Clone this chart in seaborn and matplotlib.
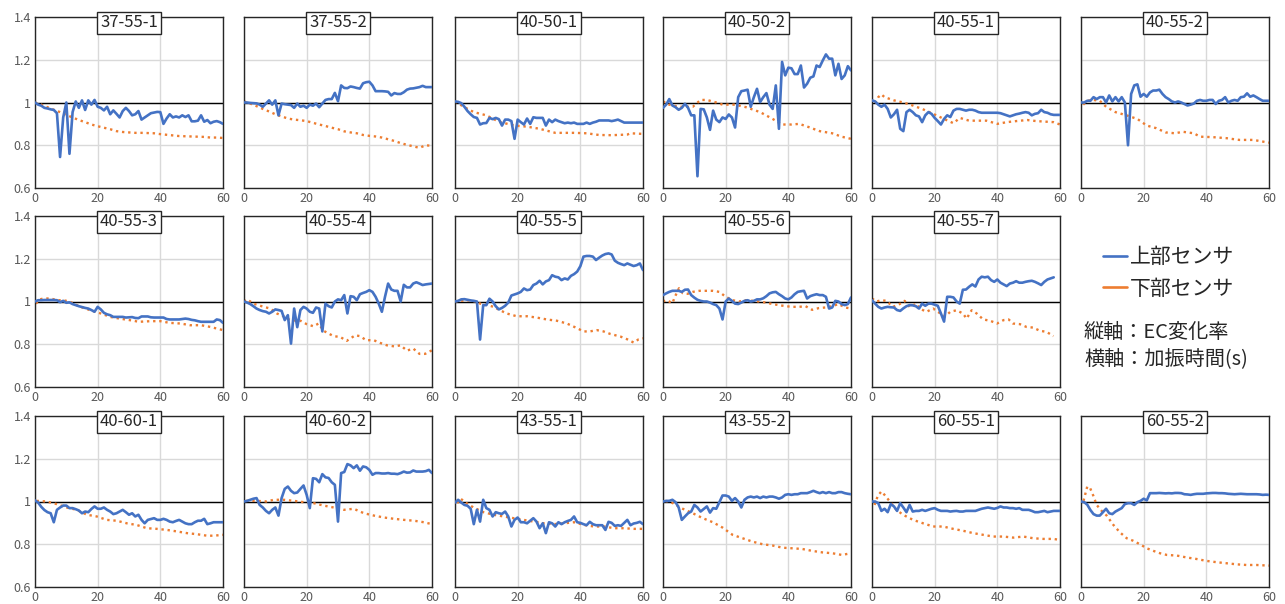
import numpy as np
import pandas as pd
import matplotlib
matplotlib.use("Agg")
import matplotlib.pyplot as plt
from matplotlib.lines import Line2D
from matplotlib.ticker import FixedLocator, FuncFormatter
import seaborn as sns

sns.set_theme(style="white")
plt.rcParams['font.family'] = ['Noto Sans CJK JP', 'DejaVu Sans']

BLUE = "#4472C4"
ORANGE = "#ED7D31"

panel_names = ["37-55-1", "37-55-2", "40-50-1", "40-50-2", "40-55-1", "40-55-2",
               "40-55-3", "40-55-4", "40-55-5", "40-55-6", "40-55-7",
               "40-60-1", "40-60-2", "43-55-1", "43-55-2", "60-55-1", "60-55-2"]
legend_labels = ["上部センサ", "下部センサ"]
note_lines = ["縦軸：EC変化率", "横軸：加振時間(s)"]
x_ticks = [0, 20, 40, 60]
y_ticks = [0.6, 0.8, 1.0, 1.2, 1.4]

# ---- upper sensor (1 s sampling) ----
up_37_55_1 = [1.0, 0.99, 0.985, 0.975, 0.972, 0.968, 0.965, 0.95, 0.745, 0.93, 1.0, 0.76, 0.955, 1.005, 0.975, 1.01,
              0.965, 1.01, 0.99, 1.012, 0.98, 0.975, 0.963, 0.98, 0.945, 0.963, 0.947, 0.93, 0.96, 0.975, 0.96, 0.94,
              0.945, 0.96, 0.92, 0.93, 0.94, 0.95, 0.953, 0.956, 0.955, 0.9, 0.925, 0.945, 0.93, 0.935, 0.93, 0.94,
              0.932, 0.94, 0.912, 0.912, 0.915, 0.94, 0.91, 0.918, 0.903, 0.91, 0.913, 0.908, 0.9]
up_37_55_2 = [1.0, 1.0, 0.998, 0.997, 0.996, 0.99, 0.98, 0.995, 1.01, 0.99, 1.01, 0.94, 0.995, 0.992, 0.99, 0.988,
              0.975, 0.995, 0.98, 0.985, 0.975, 0.99, 0.985, 0.995, 0.978, 0.995, 1.012, 1.016, 1.016, 1.045, 1.006,
              1.08, 1.068, 1.067, 1.075, 1.072, 1.068, 1.065, 1.09, 1.095, 1.097, 1.08, 1.053, 1.053, 1.053, 1.052,
              1.05, 1.033, 1.044, 1.04, 1.04, 1.048, 1.06, 1.065, 1.066, 1.069, 1.072, 1.078, 1.072, 1.072, 1.072]
up_40_50_1 = [1.005, 1.003, 0.997, 0.98, 0.96, 0.945, 0.932, 0.928, 0.897, 0.903, 0.904, 0.928, 0.922, 0.928, 0.922,
              0.892, 0.92, 0.92, 0.913, 0.83, 0.92, 0.908, 0.897, 0.925, 0.9, 0.931, 0.928, 0.928, 0.928, 0.892, 0.92,
              0.908, 0.92, 0.913, 0.908, 0.903, 0.906, 0.903, 0.906, 0.9, 0.9, 0.9, 0.906, 0.9, 0.906, 0.91, 0.916,
              0.916, 0.916, 0.916, 0.913, 0.916, 0.92, 0.913, 0.906, 0.906, 0.906, 0.906, 0.906, 0.906, 0.906]
up_40_50_2 = [0.975, 0.99, 1.016, 0.986, 0.978, 0.966, 0.975, 0.994, 0.975, 0.94, 0.94, 0.655, 0.97, 0.968, 0.93,
              0.872, 0.962, 0.92, 0.908, 0.93, 0.923, 0.944, 0.93, 0.883, 1.025, 1.053, 1.056, 1.06, 0.98, 1.025,
              1.064, 1.002, 1.025, 1.044, 0.99, 0.97, 1.08, 0.877, 1.19, 1.127, 1.163, 1.16, 1.133, 1.133, 1.173,
              1.07, 1.088, 1.116, 1.122, 1.173, 1.166, 1.197, 1.225, 1.205, 1.205, 1.127, 1.181, 1.11, 1.127, 1.17, 1.15]
up_40_55_1 = [1.01, 1.005, 0.99, 0.98, 0.99, 0.97, 0.93, 0.945, 0.966, 0.877, 0.866, 0.955, 0.966, 0.955, 0.94, 0.935,
              0.908, 0.94, 0.955, 0.947, 0.928, 0.913, 0.897, 0.923, 0.94, 0.932, 0.962, 0.97, 0.97, 0.966, 0.962,
              0.966, 0.966, 0.962, 0.955, 0.952, 0.952, 0.952, 0.952, 0.952, 0.952, 0.95, 0.945, 0.94, 0.935, 0.94,
              0.945, 0.948, 0.952, 0.955, 0.952, 0.94, 0.947, 0.95, 0.966, 0.955, 0.952, 0.945, 0.942, 0.942, 0.942]
up_40_55_2 = [1.0, 1.0, 1.008, 1.008, 1.025, 1.016, 1.025, 1.025, 1.0, 1.033, 1.005, 1.025, 1.005, 1.025, 1.0, 0.8,
              1.04, 1.08, 1.085, 1.027, 1.04, 1.027, 1.047, 1.056, 1.056, 1.06, 1.04, 1.025, 1.016, 1.005, 1.0, 1.005,
              1.0, 0.993, 0.986, 0.99, 0.995, 1.008, 1.012, 1.008, 1.008, 1.012, 1.012, 0.993, 1.008, 1.012, 1.025,
              1.0, 1.008, 1.012, 1.008, 1.025, 1.027, 1.043, 1.027, 1.033, 1.025, 1.016, 1.008, 1.008, 1.008]
up_40_55_3 = [1.0, 1.006, 1.006, 1.007, 1.007, 1.007, 1.007, 1.006, 0.997, 1.003, 0.994, 0.996, 0.988, 0.983, 0.978,
              0.974, 0.97, 0.967, 0.96, 0.952, 0.975, 0.963, 0.947, 0.94, 0.936, 0.928, 0.928, 0.928, 0.928, 0.925,
              0.926, 0.927, 0.923, 0.922, 0.93, 0.93, 0.93, 0.926, 0.925, 0.925, 0.925, 0.925, 0.918, 0.916, 0.916,
              0.916, 0.916, 0.918, 0.92, 0.918, 0.914, 0.912, 0.908, 0.905, 0.905, 0.905, 0.905, 0.905, 0.916, 0.913, 0.9]
up_40_55_4 = [1.0, 0.995, 0.988, 0.978, 0.967, 0.96, 0.955, 0.952, 0.944, 0.952, 0.963, 0.96, 0.956, 0.913, 0.936,
              0.803, 0.967, 0.88, 0.96, 0.975, 0.967, 0.952, 0.947, 0.972, 0.967, 0.86, 0.99, 0.978, 0.972, 1.0, 1.01,
              1.006, 1.03, 0.944, 1.025, 1.022, 1.006, 1.034, 1.04, 1.045, 1.053, 1.045, 1.022, 0.99, 0.952, 1.022,
              1.084, 1.056, 1.05, 1.05, 1.0, 1.078, 1.066, 1.066, 1.084, 1.09, 1.084, 1.077, 1.08, 1.082, 1.084]
up_40_55_5 = [1.0, 1.003, 1.01, 1.011, 1.008, 1.005, 1.003, 1.0, 0.822, 0.983, 0.983, 1.013, 1.0, 0.978, 0.963, 0.97,
              0.98, 0.995, 1.028, 1.033, 1.038, 1.045, 1.061, 1.053, 1.056, 1.077, 1.084, 1.097, 1.08, 1.094, 1.1,
              1.123, 1.116, 1.113, 1.1, 1.108, 1.103, 1.12, 1.128, 1.14, 1.165, 1.21, 1.213, 1.213, 1.21, 1.194, 1.205,
              1.215, 1.222, 1.225, 1.22, 1.191, 1.181, 1.175, 1.17, 1.178, 1.172, 1.166, 1.17, 1.178, 1.147]
up_40_55_6 = [1.03, 1.038, 1.045, 1.05, 1.05, 1.05, 1.045, 1.055, 1.056, 1.03, 1.018, 1.008, 1.003, 1.0, 1.0, 0.995,
              0.988, 0.983, 0.967, 0.916, 1.0, 1.014, 1.003, 0.99, 0.988, 0.995, 1.003, 1.006, 1.0, 1.003, 1.01, 1.01,
              1.015, 1.025, 1.038, 1.043, 1.045, 1.034, 1.025, 1.014, 1.01, 1.019, 1.034, 1.045, 1.048, 1.05, 1.014,
              1.025, 1.03, 1.034, 1.03, 1.03, 1.022, 0.967, 0.972, 1.003, 1.0, 0.988, 0.983, 0.988, 1.019]
up_40_55_7 = [1.006, 0.99, 0.975, 0.967, 0.972, 0.975, 0.973, 0.972, 0.96, 0.956, 0.968, 0.978, 0.983, 0.982, 0.978,
              0.967, 0.99, 0.98, 0.99, 0.99, 0.985, 0.98, 0.944, 0.906, 1.022, 1.022, 1.019, 1.0, 0.99, 1.055, 1.056,
              1.069, 1.08, 1.07, 1.103, 1.116, 1.113, 1.116, 1.1, 1.092, 1.103, 1.088, 1.08, 1.072, 1.084, 1.088,
              1.095, 1.088, 1.088, 1.092, 1.095, 1.097, 1.092, 1.085, 1.077, 1.092, 1.103, 1.108, 1.113]
up_40_60_1 = [1.005, 0.995, 0.975, 0.96, 0.95, 0.945, 0.903, 0.961, 0.972, 0.981, 0.981, 0.969, 0.969, 0.964, 0.958,
              0.945, 0.953, 0.95, 0.965, 0.977, 0.966, 0.966, 0.972, 0.961, 0.953, 0.941, 0.945, 0.953, 0.961, 0.95,
              0.938, 0.945, 0.93, 0.938, 0.914, 0.898, 0.914, 0.918, 0.922, 0.914, 0.914, 0.919, 0.914, 0.906, 0.903,
              0.909, 0.914, 0.906, 0.898, 0.894, 0.894, 0.903, 0.91, 0.91, 0.919, 0.894, 0.898, 0.903, 0.903, 0.903, 0.903]
up_40_60_2 = [1.0, 1.003, 1.008, 1.013, 1.016, 0.984, 0.972, 0.956, 0.945, 0.961, 0.972, 0.934, 1.016, 1.059, 1.07,
              1.05, 1.039, 1.042, 1.059, 1.075, 1.031, 0.969, 1.109, 1.106, 1.09, 1.128, 1.113, 1.11, 1.09, 1.078,
              0.906, 1.133, 1.138, 1.175, 1.169, 1.156, 1.169, 1.144, 1.164, 1.16, 1.148, 1.125, 1.133, 1.133, 1.131,
              1.131, 1.133, 1.13, 1.13, 1.128, 1.133, 1.14, 1.135, 1.136, 1.145, 1.14, 1.14, 1.14, 1.142, 1.148, 1.133]
up_43_55_1 = [0.995, 1.008, 0.995, 0.984, 0.98, 0.966, 0.894, 0.961, 0.906, 1.008, 0.969, 0.961, 0.93, 0.95, 0.945,
              0.942, 0.953, 0.93, 0.883, 0.914, 0.925, 0.903, 0.903, 0.898, 0.91, 0.922, 0.906, 0.875, 0.898, 0.852,
              0.903, 0.898, 0.883, 0.903, 0.894, 0.903, 0.909, 0.914, 0.93, 0.903, 0.9, 0.894, 0.889, 0.905, 0.894,
              0.889, 0.889, 0.889, 0.867, 0.905, 0.9, 0.886, 0.889, 0.886, 0.9, 0.914, 0.889, 0.897, 0.9, 0.905, 0.894]
up_43_55_2 = [1.0, 1.003, 1.003, 1.008, 0.997, 0.972, 0.914, 0.93, 0.945, 0.953, 0.984, 0.972, 0.953, 0.965, 0.977,
              0.948, 0.969, 0.966, 0.997, 1.028, 1.028, 1.023, 1.003, 1.016, 1.0, 0.972, 1.008, 1.019, 1.023, 1.019,
              1.023, 1.016, 1.023, 1.019, 1.023, 1.023, 1.019, 1.013, 1.019, 1.031, 1.034, 1.031, 1.034, 1.034, 1.039,
              1.039, 1.039, 1.044, 1.05, 1.044, 1.039, 1.044, 1.039, 1.044, 1.039, 1.039, 1.044, 1.044, 1.039, 1.036, 1.034]
up_60_55_1 = [1.0, 1.0, 0.992, 0.956, 0.966, 0.95, 0.988, 0.977, 0.956, 0.992, 0.972, 0.95, 0.984, 0.953, 0.956,
              0.956, 0.961, 0.956, 0.961, 0.966, 0.969, 0.961, 0.956, 0.956, 0.956, 0.953, 0.955, 0.956, 0.953, 0.953,
              0.956, 0.956, 0.956, 0.956, 0.961, 0.966, 0.969, 0.972, 0.969, 0.966, 0.97, 0.977, 0.972, 0.972, 0.969,
              0.969, 0.966, 0.969, 0.961, 0.961, 0.961, 0.956, 0.95, 0.95, 0.953, 0.956, 0.95, 0.953, 0.956, 0.956, 0.956]
up_60_55_2 = [1.0, 0.997, 0.985, 0.96, 0.941, 0.934, 0.934, 0.95, 0.966, 0.945, 0.941, 0.953, 0.961, 0.969, 0.988,
              0.992, 0.992, 0.984, 0.997, 1.003, 1.013, 1.005, 1.039, 1.039, 1.039, 1.04, 1.039, 1.038, 1.039, 1.038,
              1.04, 1.04, 1.039, 1.034, 1.033, 1.031, 1.034, 1.036, 1.036, 1.036, 1.038, 1.039, 1.04, 1.04, 1.039,
              1.039, 1.038, 1.036, 1.035, 1.034, 1.035, 1.036, 1.035, 1.034, 1.034, 1.034, 1.034, 1.033, 1.031, 1.032, 1.031]

# ---- lower sensor (time, value) ----
lo_t_37_55_1 = [0, 2, 4, 6, 8, 10, 12, 14, 16, 18, 20, 22, 24, 26, 28, 30, 32, 34, 36, 38, 40, 42, 44, 46, 48, 50, 52, 54, 56, 58, 60]
lo_37_55_1 = [1.0, 0.99, 0.978, 0.966, 0.955, 0.942, 0.93, 0.918, 0.908, 0.897, 0.889, 0.882, 0.875, 0.866, 0.862, 0.86,
              0.858, 0.858, 0.857, 0.856, 0.852, 0.849, 0.846, 0.843, 0.842, 0.841, 0.84, 0.839, 0.836, 0.836, 0.834]
lo_t_37_55_2 = [0, 2, 4, 6, 8, 10, 12, 14, 16, 18, 20, 22, 24, 26, 28, 30, 32, 34, 36, 38, 40, 42, 44, 46, 48, 50, 52, 54, 56, 58, 60]
lo_37_55_2 = [1.005, 0.995, 0.983, 0.97, 0.958, 0.945, 0.935, 0.925, 0.92, 0.917, 0.913, 0.905, 0.897, 0.89, 0.882,
              0.875, 0.865, 0.86, 0.856, 0.848, 0.844, 0.841, 0.836, 0.828, 0.82, 0.81, 0.802, 0.795, 0.788, 0.8, 0.797]
lo_t_40_50_1 = [0, 3, 6, 10, 14, 19, 23, 27, 32, 38, 42, 46, 50, 55, 56, 60]
lo_40_50_1 = [1.005, 0.978, 0.955, 0.94, 0.91, 0.892, 0.887, 0.877, 0.858, 0.858, 0.856, 0.848, 0.847, 0.85, 0.856, 0.853]
lo_t_40_50_2 = [0, 2, 5, 9.5, 12, 14, 17, 19, 23, 26.5, 31, 35, 38, 41, 43.5, 46.5, 50, 54, 57, 60]
lo_40_50_2 = [1.005, 0.99, 0.98, 0.98, 1.012, 1.012, 1.0, 0.99, 0.99, 0.978, 0.955, 0.923, 0.897, 0.897, 0.9, 0.885,
              0.866, 0.856, 0.84, 0.83]
lo_t_40_55_1 = [1, 2, 3, 4, 7, 10, 13, 16, 19.5, 23, 26, 28, 31, 36.5, 40, 43, 46, 49.5, 52.5, 58, 60]
lo_40_55_1 = [0.997, 1.025, 1.038, 1.025, 1.01, 1.0, 0.986, 0.97, 0.947, 0.923, 0.903, 0.928, 0.915, 0.915, 0.9, 0.908,
              0.913, 0.918, 0.913, 0.908, 0.897]
lo_t_40_55_2 = [0.7, 2, 4, 6, 8, 11, 14.5, 18, 21, 24, 27, 30, 32.5, 36, 38, 42, 46.5, 50.5, 55, 60]
lo_40_55_2 = [0.99, 1.008, 1.012, 1.008, 0.98, 0.955, 0.94, 0.923, 0.892, 0.88, 0.86, 0.856, 0.863, 0.856, 0.84, 0.838,
              0.833, 0.825, 0.825, 0.812]
lo_t_40_55_3 = [0.3, 1.6, 2.7, 5, 7, 9, 11, 14.5, 17.5, 21, 24, 27, 31.5, 33, 37, 40, 43, 46.5, 49.5, 53, 56, 60]
lo_40_55_3 = [0.99, 1.01, 1.014, 1.014, 1.006, 1.006, 1.0, 0.975, 0.96, 0.944, 0.928, 0.92, 0.91, 0.905, 0.908, 0.908,
              0.9, 0.897, 0.889, 0.889, 0.881, 0.866]
lo_t_40_55_4 = [0, 1, 3, 6.3, 8.4, 10.5, 12.7, 14.8, 18, 20, 22.2, 23.8, 25.4, 27, 28.6, 30.7, 32.8, 35.5, 37, 39, 41.4,
                43.5, 45.6, 48, 50, 52, 54, 56, 57.8, 60]
lo_40_55_4 = [1.0, 1.01, 0.99, 0.975, 0.967, 0.944, 0.93, 0.912, 0.91, 0.894, 0.884, 0.897, 0.863, 0.85, 0.838, 0.834,
              0.816, 0.842, 0.838, 0.819, 0.819, 0.806, 0.795, 0.79, 0.795, 0.77, 0.78, 0.755, 0.755, 0.772]
lo_t_40_55_5 = [0, 3.7, 7, 8, 10, 12.3, 14.4, 16.5, 19.7, 23, 26, 29.3, 32.5, 35.7, 39, 41, 43, 45.3, 47.4, 49.6, 52.8,
                55, 57, 58.6, 60]
lo_40_55_5 = [1.0, 1.006, 1.0, 0.99, 0.985, 0.975, 0.959, 0.944, 0.931, 0.931, 0.925, 0.916, 0.91, 0.897, 0.875, 0.86,
              0.86, 0.866, 0.86, 0.848, 0.836, 0.823, 0.808, 0.823, 0.828]
lo_t_40_55_6 = [0, 1, 2, 3, 3.8, 5.1, 6.3, 7.9, 9.5, 11.6, 13.8, 15.9, 18, 20, 22.2, 24.3, 26.5, 28.6, 30.7, 32.8, 35,
                37, 39.2, 41.3, 43.4, 45.5, 47.6, 49.7, 51.8, 54, 56, 58.2, 60]
lo_40_55_6 = [1.0, 1.006, 1.0, 0.992, 1.022, 1.062, 1.039, 1.036, 1.045, 1.05, 1.05, 1.05, 1.045, 1.022, 1.006, 1.0,
              1.006, 1.003, 1.0, 0.995, 0.988, 0.983, 0.978, 0.975, 0.975, 0.978, 0.961, 0.969, 0.972, 0.978, 0.988,
              0.972, 0.967]
lo_t_40_55_7 = [0, 1.4, 3, 4.6, 6.7, 8.8, 10.4, 12, 14.2, 15.2, 17.4, 19.5, 21.8, 23.4, 25, 27, 29, 30.2, 31.8, 33.4,
                35.5, 37.7, 39.9, 42, 43.6, 45, 47.2, 49.3, 51.4, 53.6, 55.7, 57.9]
lo_40_55_7 = [1.014, 1.0, 1.006, 1.003, 0.975, 0.988, 1.003, 0.975, 0.99, 0.967, 0.952, 0.967, 0.944, 0.931, 0.952,
              0.959, 0.944, 0.92, 0.959, 0.944, 0.916, 0.91, 0.897, 0.913, 0.916, 0.897, 0.894, 0.881, 0.878, 0.863,
              0.858, 0.838]
lo_t_40_60_1 = [0.5, 3.7, 6.9, 10.1, 13.3, 16.6, 19.7, 22.9, 26.1, 29.3, 32.5, 35.7, 38.9, 42.1, 45.3, 48.5, 51.7,
                54.9, 57, 60]
lo_40_60_1 = [1.003, 1.0, 0.988, 0.972, 0.961, 0.938, 0.93, 0.914, 0.91, 0.898, 0.89, 0.875, 0.872, 0.867, 0.86, 0.852,
              0.847, 0.84, 0.84, 0.844]
lo_t_40_60_2 = [0.7, 4.1, 7.3, 9.5, 12.7, 15.9, 19, 22.3, 25.4, 28.6, 31.9, 35, 38.3, 41.5, 44.7, 47.9, 51.1, 54.3,
                57.4, 60]
lo_40_60_2 = [1.003, 1.003, 1.0, 1.008, 1.008, 1.003, 0.997, 0.992, 0.981, 0.972, 0.961, 0.966, 0.945, 0.934, 0.925,
              0.919, 0.914, 0.91, 0.903, 0.894]
lo_t_43_55_1 = [0.7, 1.8, 3.7, 5.9, 9.1, 12.3, 15.5, 18.7, 21.9, 25.1, 28.3, 31.6, 34.8, 38, 41.2, 44.4, 47.6, 50.8,
                54, 57, 60]
lo_43_55_1 = [0.992, 1.013, 0.992, 0.972, 0.95, 0.938, 0.93, 0.922, 0.914, 0.906, 0.898, 0.894, 0.898, 0.903, 0.89,
              0.883, 0.883, 0.875, 0.875, 0.872, 0.872]
lo_t_43_55_2 = [0.8, 3.2, 6.3, 9.5, 12.7, 15.9, 19, 22.2, 25.4, 28.6, 31.8, 35, 38.1, 41.3, 44.4, 47.6, 50.8, 54,
                57.1, 60]
lo_43_55_2 = [1.003, 0.992, 0.966, 0.945, 0.922, 0.903, 0.878, 0.844, 0.828, 0.812, 0.8, 0.794, 0.784, 0.781, 0.778,
              0.769, 0.762, 0.758, 0.75, 0.758]
lo_t_60_55_1 = [0.8, 1.9, 3, 4, 5.7, 7.8, 9.9, 13.1, 16.3, 19.5, 22.7, 25.9, 29.1, 32.3, 35.5, 38.7, 41.9, 45.1, 48.3,
                51.5, 54.7, 57.9, 60]
lo_60_55_1 = [0.984, 1.028, 1.047, 1.031, 1.0, 0.961, 0.938, 0.914, 0.898, 0.883, 0.883, 0.872, 0.863, 0.852, 0.844,
              0.836, 0.836, 0.831, 0.836, 0.828, 0.825, 0.825, 0.82]
lo_t_60_55_2 = [0.8, 2, 2.9, 3.9, 5, 6.6, 8.2, 10.3, 12.4, 14.6, 16.7, 18.8, 21, 23.1, 25.2, 27.4, 30.6, 33.8, 36.9,
                40.1, 43.3, 46.5, 49.7, 52.8, 56, 60]
lo_60_55_2 = [1.003, 1.07, 1.063, 1.028, 0.984, 0.956, 0.934, 0.891, 0.856, 0.828, 0.816, 0.8, 0.781, 0.769, 0.758,
              0.75, 0.747, 0.738, 0.731, 0.722, 0.716, 0.711, 0.706, 0.703, 0.703, 0.7]

upper_series = [up_37_55_1, up_37_55_2, up_40_50_1, up_40_50_2, up_40_55_1, up_40_55_2,
                up_40_55_3, up_40_55_4, up_40_55_5, up_40_55_6, up_40_55_7,
                up_40_60_1, up_40_60_2, up_43_55_1, up_43_55_2, up_60_55_1, up_60_55_2]
lower_series = [(lo_t_37_55_1, lo_37_55_1), (lo_t_37_55_2, lo_37_55_2), (lo_t_40_50_1, lo_40_50_1),
                (lo_t_40_50_2, lo_40_50_2), (lo_t_40_55_1, lo_40_55_1), (lo_t_40_55_2, lo_40_55_2),
                (lo_t_40_55_3, lo_40_55_3), (lo_t_40_55_4, lo_40_55_4), (lo_t_40_55_5, lo_40_55_5),
                (lo_t_40_55_6, lo_40_55_6), (lo_t_40_55_7, lo_40_55_7), (lo_t_40_60_1, lo_40_60_1),
                (lo_t_40_60_2, lo_40_60_2), (lo_t_43_55_1, lo_43_55_1), (lo_t_43_55_2, lo_43_55_2),
                (lo_t_60_55_1, lo_60_55_1), (lo_t_60_55_2, lo_60_55_2)]

# ---- layout (pixels) ----
W, H = 1285, 604
fig = plt.figure(figsize=(W / 100, H / 100), dpi=100)
col_left = [35, 244, 455, 663, 872, 1081]
row_top = [17, 216, 416]
aw, ah = 188, 171
slots = [(0, c) for c in range(6)] + [(1, c) for c in range(5)] + [(2, c) for c in range(6)]


def fmt_y(v, _):
    return "1" if abs(v - 1) < 1e-9 else f"{v:.1f}"


for i, name in enumerate(panel_names):
    r, c = slots[i]
    ax = fig.add_axes([col_left[c] / W, (H - row_top[r] - ah) / H, aw / W, ah / H])
    ax.set_facecolor("white")
    ax.set_xlim(0, 60)
    ax.set_ylim(0.6, 1.4)
    ax.xaxis.set_major_locator(FixedLocator(x_ticks))
    ax.yaxis.set_major_locator(FixedLocator(y_ticks))
    ax.yaxis.set_major_formatter(FuncFormatter(fmt_y))
    ax.grid(True, color="#D9D9D9", lw=1.0, zorder=0)
    ax.set_axisbelow(True)
    ax.axhline(1.0, color="black", lw=1.0, zorder=1)
    for sp in ax.spines.values():
        sp.set_visible(True)
        sp.set_color("#262626")
        sp.set_linewidth(1.0)
    ax.tick_params(axis="both", length=0, labelsize=9, labelcolor="#595959", pad=3)
    if c != 0:
        ax.tick_params(axis="y", labelleft=False)

    up = upper_series[i]
    df_up = pd.DataFrame({"t": np.arange(len(up)), "v": up})
    sns.lineplot(data=df_up, x="t", y="v", ax=ax, color=BLUE, lw=1.9, zorder=3)
    lt, lv = lower_series[i]
    df_lo = pd.DataFrame({"t": lt, "v": lv})
    sns.lineplot(data=df_lo, x="t", y="v", ax=ax, color=ORANGE, lw=1.7, zorder=2,
                 linestyle=(0, (1, 1.6)))
    ax.set_xlabel("")
    ax.set_ylabel("")
    ax.text(0.5, 0.965, name, transform=ax.transAxes, ha="center", va="center",
            fontsize=12, color="#262626", zorder=5,
            bbox=dict(boxstyle="square,pad=0.16", fc="white", ec="#262626", lw=1.0))

handles = [Line2D([0], [0], color=BLUE, lw=1.9), Line2D([0], [0], color=ORANGE, lw=1.9)]
fig.legend(handles, legend_labels, loc="center left", bbox_to_anchor=(1103 / W, 1 - 273 / H),
           frameon=False, fontsize=15, handlelength=1.15, handletextpad=0.15, labelspacing=0.45,
           borderpad=0, borderaxespad=0, labelcolor="#262626")
fig.text(1084 / W, 1 - 332 / H, note_lines[0], ha="left", va="center", fontsize=14.5, color="#262626")
fig.text(1084 / W, 1 - 359 / H, note_lines[1], ha="left", va="center", fontsize=14.5, color="#262626")

fig.savefig("out.png", dpi=100, facecolor="white")
